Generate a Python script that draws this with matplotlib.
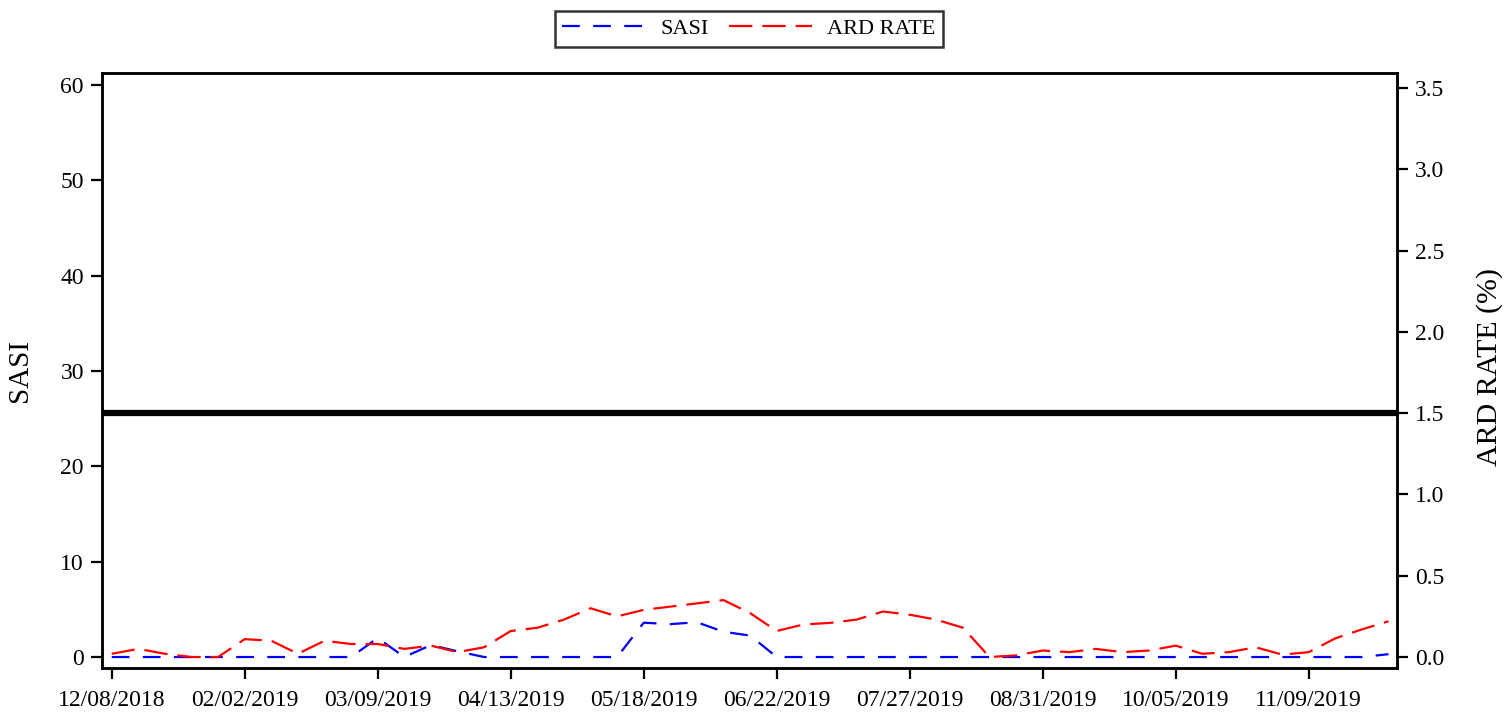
import matplotlib
matplotlib.use("Agg")
import matplotlib.pyplot as plt

# settimane (indice categoriale) ed etichette dei tick
tick_labels = ["12/08/2018", "02/02/2019", "03/09/2019", "04/13/2019", "05/18/2019",
               "06/22/2019", "07/27/2019", "08/31/2019", "10/05/2019", "11/09/2019"]
tick_pos = [0, 5, 10, 15, 20, 25, 30, 35, 40, 45]

sasi = [0, 0, 0, 0, 0, 0, 0, 0, 0, 0,
        2.0, 0, 1.26, 0.6, 0, 0, 0, 0, 0, 0,
        3.6, 3.45, 3.65, 2.65, 2.25, 0, 0, 0, 0, 0,
        0, 0, 0, 0, 0, 0, 0, 0, 0, 0,
        0, 0, 0, 0, 0, 0, 0, 0, 0.3]

ard_rate = [0.02, 0.05, 0.02, 0.0, 0.0, 0.11, 0.10, 0.02, 0.10, 0.08,
            0.08, 0.05, 0.07, 0.03, 0.06, 0.16, 0.18, 0.23, 0.30, 0.25,
            0.29, 0.31, 0.33, 0.35, 0.27, 0.16, 0.20, 0.21, 0.23, 0.28,
            0.26, 0.23, 0.18, 0.0, 0.01, 0.04, 0.03, 0.05, 0.03, 0.04,
            0.07, 0.02, 0.03, 0.06, 0.015, 0.03, 0.115, 0.17, 0.22]

soglia = 1.5  # linea di riferimento ARD RATE

plt.rcParams['font.family'] = ['Liberation Serif', 'DejaVu Serif']
plt.rcParams['font.size'] = 17

fig = plt.figure(figsize=(15.11, 7.24), dpi=100)
ax = fig.add_axes([0.0675, 0.0773, 0.8571, 0.8219])
ax2 = ax.twinx()

x = list(range(len(sasi)))
l1, = ax.plot(x, sasi, color="blue", lw=1.6, dashes=(8, 6), label="SASI")
l2, = ax2.plot(x, ard_rate, color="red", lw=1.6, dashes=(10.5, 4.5), label="ARD RATE")
ax2.axhline(soglia, color="black", lw=4.5)

ax.set_xlim(-0.365, 48.32)
ax.set_ylim(-1.154, 61.26)
ax2.set_ylim(-0.0677, 3.592)

ax.set_yticks([0, 10, 20, 30, 40, 50, 60])
ax2.set_yticks([0.0, 0.5, 1.0, 1.5, 2.0, 2.5, 3.0, 3.5])
ax2.set_yticklabels([f"{v:.1f}" for v in [0.0, 0.5, 1.0, 1.5, 2.0, 2.5, 3.0, 3.5]])
ax.set_xticks(tick_pos)
ax.set_xticklabels(tick_labels)

for a in (ax, ax2):
    for s in a.spines.values():
        s.set_linewidth(1.8)
    a.tick_params(direction="out", length=8, width=1.6, labelsize=17, pad=5)
ax.tick_params(axis="x", pad=8)

ax.set_ylabel("SASI", fontsize=21)
ax.yaxis.set_label_coords(-0.053, 0.5)
ax2.set_ylabel("ARD RATE (%)", fontsize=21.5)
ax2.yaxis.set_label_coords(1.061, 0.506)

leg = fig.legend(handles=[l1, l2], loc="center", bbox_to_anchor=(0.4957, 0.96),
                 ncol=2, frameon=True, fancybox=False, edgecolor="black",
                 handlelength=3.7, handletextpad=0.7, columnspacing=0.95,
                 fontsize=16, borderpad=0.35)
leg.get_frame().set_linewidth(1.8)

fig.savefig("out.png", dpi=100)
